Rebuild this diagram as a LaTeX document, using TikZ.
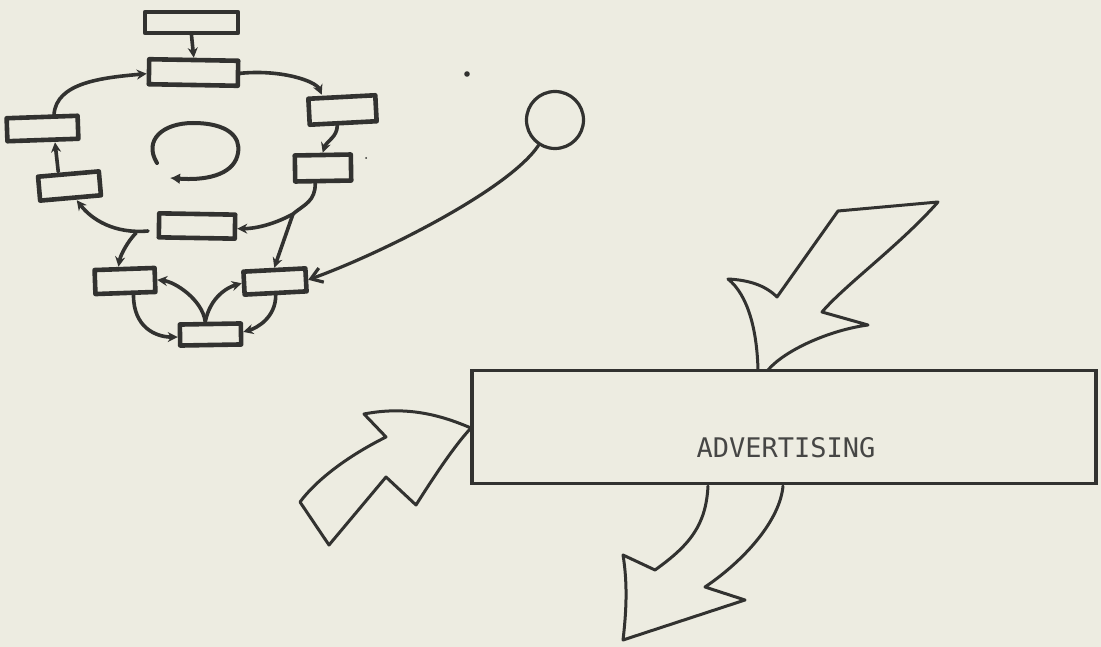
\documentclass[tikz,border=0pt]{standalone}
\usepackage{fontspec}
\newfontfamily\admono{DejaVu Sans Mono}
\usepackage{tikz}
\usetikzlibrary{arrows.meta,calc}
\definecolor{paper}{RGB}{237,236,225}
\definecolor{ink}{RGB}{50,50,48}
\tikzset{
  smallbox/.style={draw=ink,line width=4.6pt,line join=round},
  flowarrow/.style={draw=ink,line width=3.6pt,line cap=round,-{Stealth[length=10pt,width=10pt]}},
  cycleloop/.style={draw=ink,line width=4pt,line cap=round,-{Latex[length=10pt,width=11pt]}},
  sunring/.style={circle,draw=ink,line width=3.2pt},
  reach/.style={draw=ink,line width=3.2pt,line cap=round,-{Straight Barb[length=11pt,width=15pt]}},
  adbox/.style={draw=ink,line width=3.4pt,fill=paper},
  adlabel/.style={text=ink!90,font=\admono\fontsize{27}{30}\selectfont},
  bigarrow/.style={draw=ink,line width=3pt,line join=round,line cap=round}
}
\begin{document}
\begin{tikzpicture}[x=1pt,y=-1pt,every node/.style={inner sep=0pt}]
  \fill[paper] (0,0) rectangle (1101,647);
  \useasboundingbox (0,0) rectangle (1101,647);
  \foreach \nm/\cx/\cy/\w/\h/\r in {b0/191.5/22.5/93/21/0,b1/193.5/72.5/89/25/-1,b2/342.5/110/67/26/3,b3/323/168/56/26/1,
      l1/42.5/128.5/71/23/2,l2/69.5/186/61/24/5,cc/197/226/76/24/-1,bl/125/281/60/24/2,br/275/281.5/62/23/3,bb/210.5/334.5/61/21/1}{
    \node[smallbox,minimum width=\w pt,minimum height=\h pt,rotate=\r] (\nm) at (\cx,\cy) {};}
  \draw[flowarrow] (b0.south) -- (b1.north);
  \draw[flowarrow] (b1.east) .. controls +(40,-4) and +(-6,-14) .. ([xshift=-20pt]b2.north);
  \draw[flowarrow] ([xshift=-6pt]b2.south) .. controls +(0,12) and +(4,-12) .. (b3.north);
  \coordinate (forkR) at (293,214);
  \draw[flowarrow] ([xshift=-8pt]b3.south) .. controls +(0,18) and +(12,-10) .. (forkR) .. controls +(-22,12) and +(15,0) .. ([yshift=-2pt]cc.east);
  \draw[flowarrow] (forkR) -- (br.north);
  \coordinate (joinC) at (148,231);
  \coordinate (forkC) at (136,233);
  \draw[flowarrow] (joinC) .. controls (115,234) and (92,220) .. ([xshift=6pt]l2.south);
  \draw[flowarrow] (forkC) .. controls +(-8,8) and +(2,-12) .. ([xshift=-6pt]bl.north);
  \draw[flowarrow] ([xshift=-10pt]l2.north) -- ([xshift=12pt]l1.south);
  \draw[flowarrow] ([xshift=12pt]l1.north) .. controls +(2,-32) and +(-45,4) .. ([yshift=-2pt]b1.west);
  \coordinate (forkB) at ([xshift=-5pt]bb.north);
  \draw[flowarrow] (forkB) .. controls +(-3,-22) and +(18,2) .. (bl.east);
  \draw[flowarrow] (forkB) .. controls +(5,-25) and +(-14,4) .. (br.west);
  \draw[flowarrow] ([xshift=8pt]bl.south) .. controls +(0,32) and +(-22,0) .. ([yshift=-2pt]bb.west);
  \draw[flowarrow] (br.south) .. controls +(0,22) and +(14,-4) .. ([yshift=2pt]bb.east);
  \draw[cycleloop] (157,163) .. controls (143,140) and (163,123) .. (193,123) .. controls (228,123) and (241,137) .. (238,153) .. controls (235,172) and (212,181) .. (170,178);
  \fill[ink] (467,74) circle[radius=2.8];
  \fill[ink] (366,158) circle[radius=1];
  \node[sunring,minimum size=57pt] (sun) at (555,120) {};
  \draw[reach] (sun.237) .. controls +(-30,45) and +(70,-25) .. (br.east);
  \node[adbox,minimum width=624pt,minimum height=113pt] (ad) at (784,427) {};
  \node[adlabel] (adtext) at (786,448) {ADVERTISING};
  \draw[bigarrow] (758,370) .. controls (757,330) and (748,295) .. (728,279) .. controls (748,280) and (765,285) .. (777,297) -- (838,211) -- (938,202) .. controls (900,245) and (845,285) .. (822,312) -- (868,325) .. controls (830,330) and (785,350) .. (768,370);
  \draw[bigarrow] (708,486) .. controls (706,525) and (690,545) .. (655,570) -- (623,555) .. controls (628,585) and (626,615) .. (623,640) -- (745,600) -- (705,587) .. controls (745,560) and (780,520) .. (783,486);
  \draw[bigarrow] (471,428) .. controls (445,417) and (410,405) .. (364,414) -- (386,437) .. controls (350,455) and (318,478) .. (300,502) -- (329,545) -- (386,477) -- (416,505) .. controls (435,475) and (455,445) .. (471,428);
\end{tikzpicture}
\end{document}
